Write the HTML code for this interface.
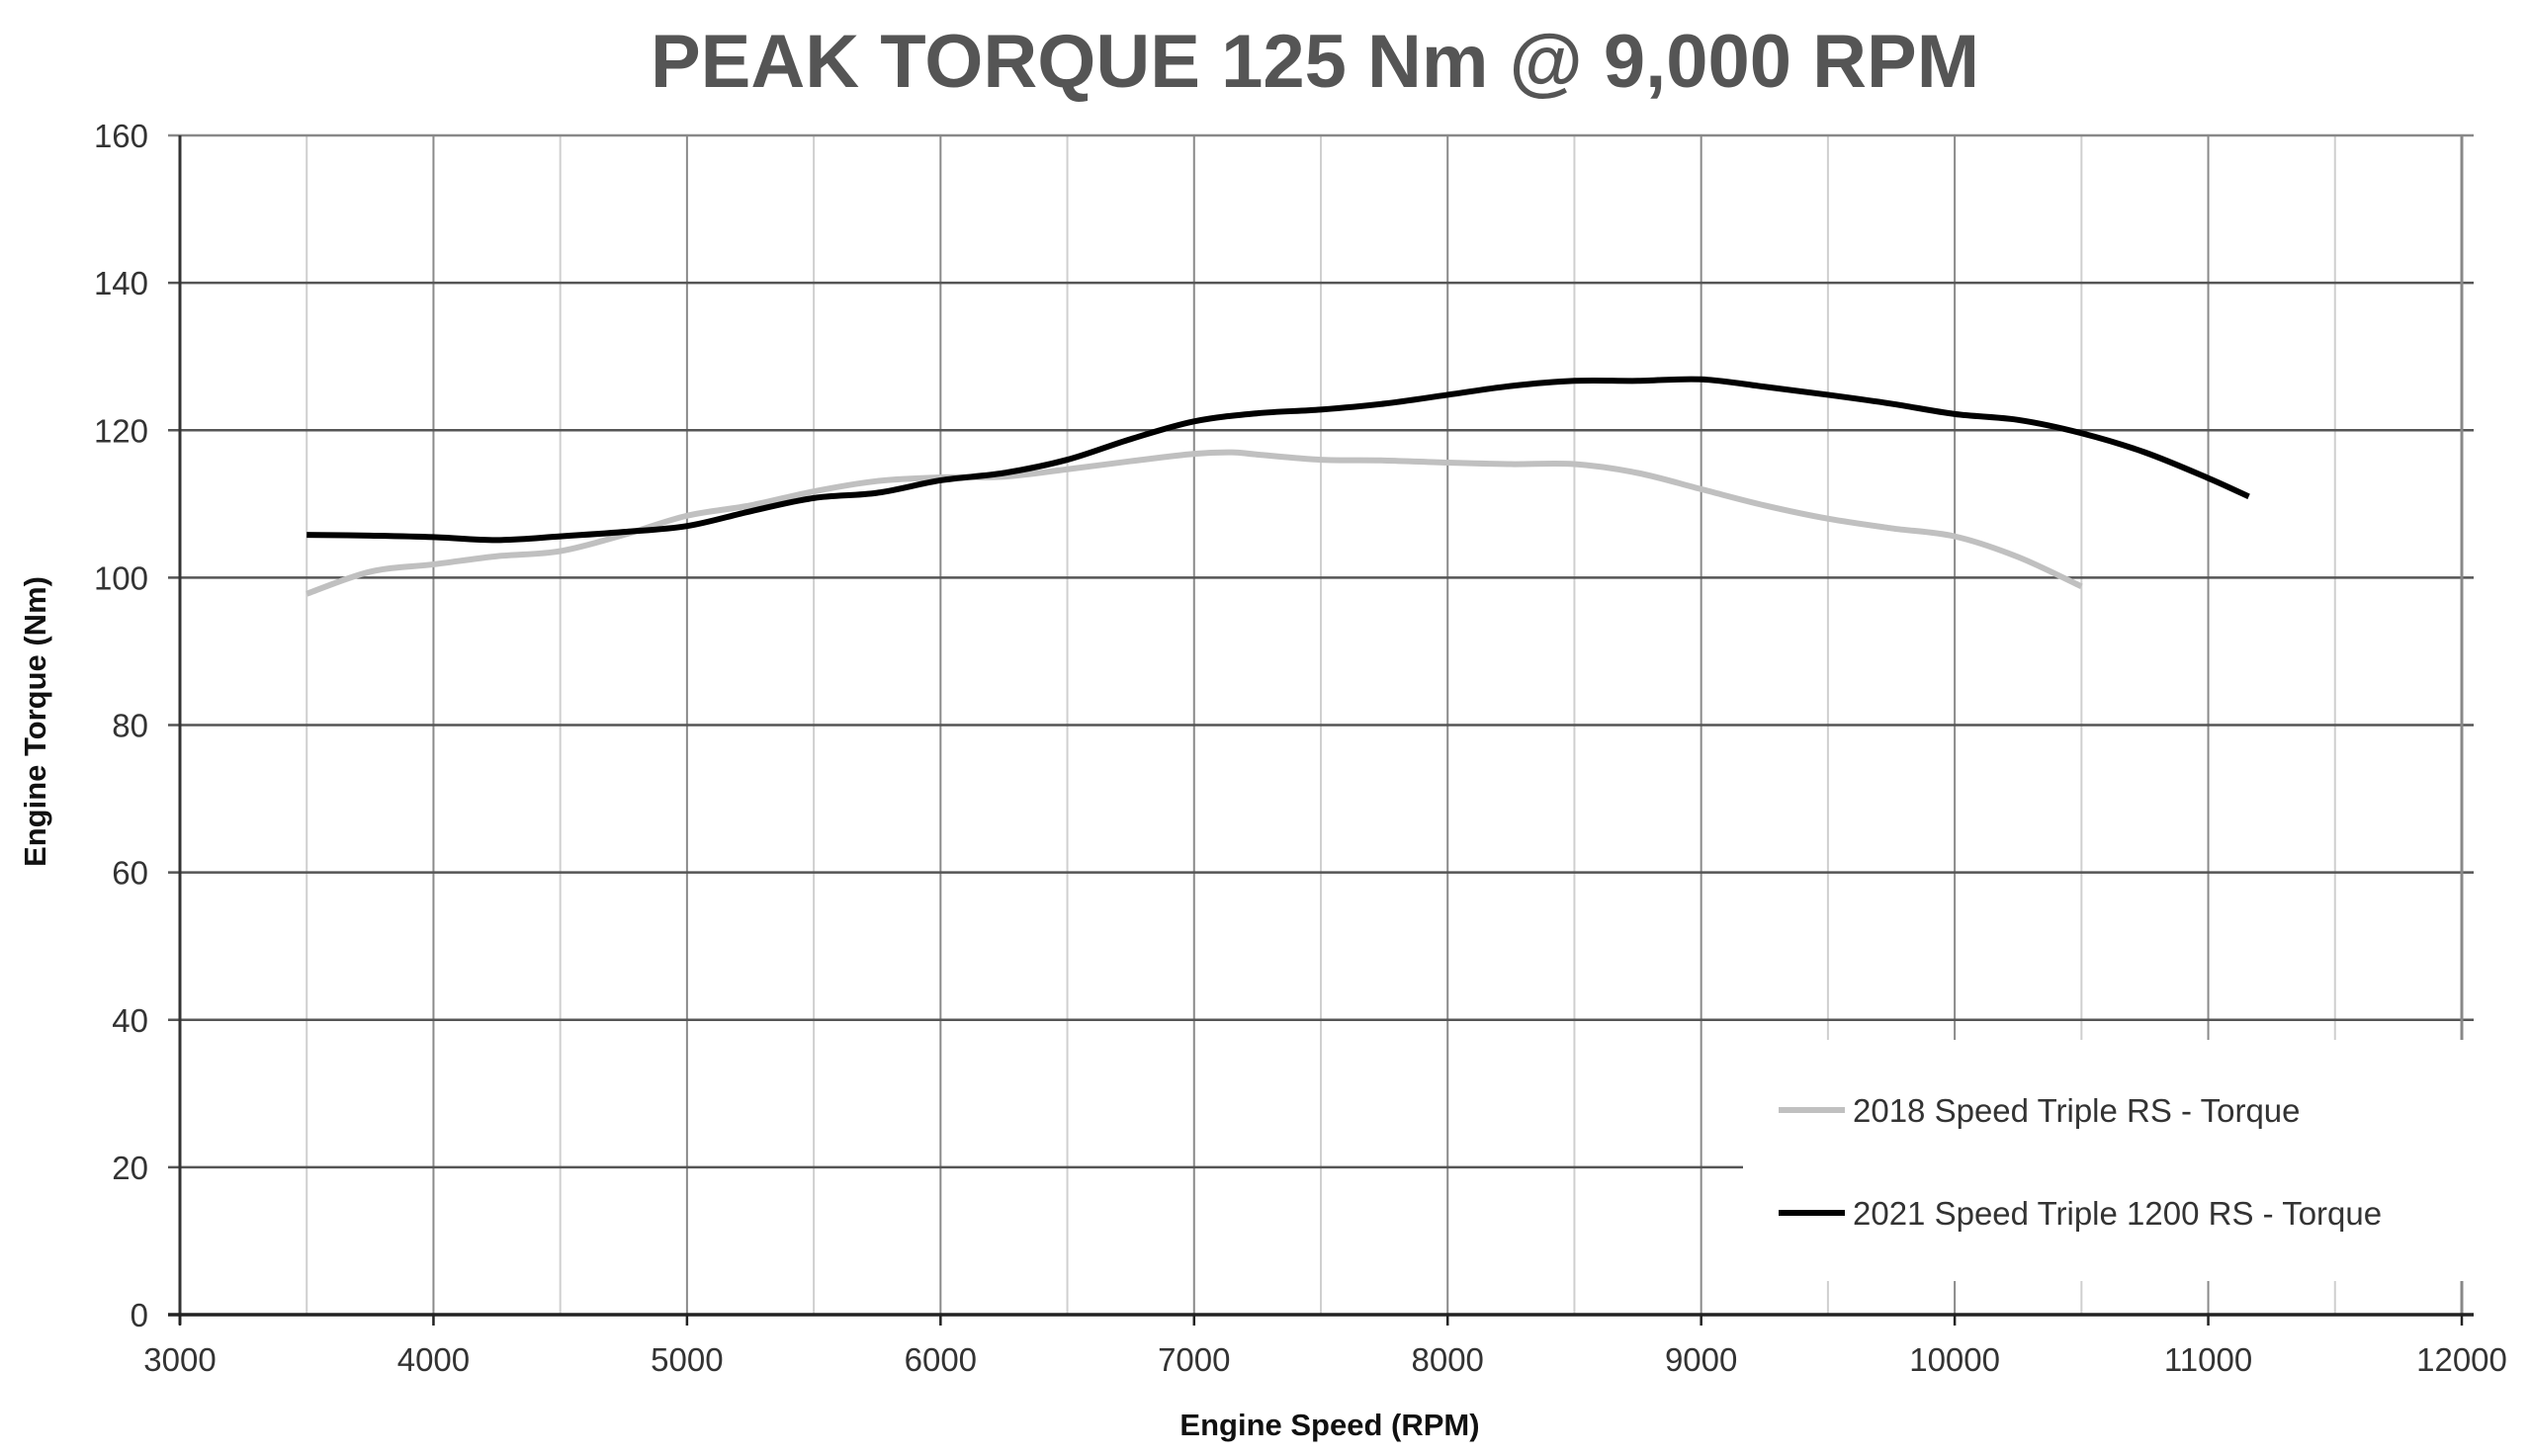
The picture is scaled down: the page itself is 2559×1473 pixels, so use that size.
<!DOCTYPE html>
<html><head><meta charset="utf-8"><style>
html,body{margin:0;padding:0;background:#fff;}
svg{display:block;font-family:"Liberation Sans",sans-serif;}
</style></head><body>
<svg id="chart" width="2559" height="1473" viewBox="0 0 2559 1473">
<text x="1330" y="88" text-anchor="middle" font-size="76" font-weight="bold" fill="#555">PEAK TORQUE 125 Nm @ 9,000 RPM</text>
<g id="grid"></g>
<g id="axes"></g>
<g id="series"></g>
<g id="legend">
<rect x="1763" y="1052" width="740" height="244" fill="#fff"/>
<line x1="1799" y1="1123" x2="1866" y2="1123" stroke="#c0c0c0" stroke-width="6"/>
<text x="1874" y="1135" font-size="33" fill="#333">2018 Speed Triple RS - Torque</text>
<line x1="1799" y1="1227" x2="1866" y2="1227" stroke="#000" stroke-width="6"/>
<text x="1874" y="1239" font-size="33" fill="#333">2021 Speed Triple 1200 RS - Torque</text>
</g>
<text x="1345" y="1452" text-anchor="middle" font-size="31" font-weight="bold" fill="#111">Engine Speed (RPM)</text>
<text transform="translate(46,730) rotate(-90)" text-anchor="middle" font-size="31" font-weight="bold" fill="#111">Engine Torque (Nm)</text>
</svg>
<script>
const xTicks = [3000,4000,5000,6000,7000,8000,9000,10000,11000,12000];
const yTicks = [0,20,40,60,80,100,120,140,160];
const rpm2021 = [3500,3750,4000,4250,4500,4750,5000,5250,5500,5750,6000,6250,6500,6750,7000,7250,7500,7750,8000,8250,8500,8750,9000,9250,9500,9750,10000,10250,10500,10750,11000,11160];
const torque2021 = [105.8,105.7,105.5,105.1,105.6,106.2,107,109,110.8,111.5,113.2,114.2,116,118.8,121.2,122.3,122.8,123.6,124.8,126,126.7,126.7,126.9,125.9,124.8,123.6,122.2,121.4,119.6,117,113.5,111];
const rpm2018 = [3500,3750,4000,4250,4500,4750,5000,5250,5500,5750,6000,6250,6500,6750,7000,7150,7250,7500,7750,8000,8250,8500,8750,9000,9250,9500,9750,10000,10250,10500];
const torque2018 = [97.8,100.8,101.8,102.9,103.6,105.8,108.4,109.8,111.7,113.1,113.6,113.7,114.7,115.8,116.8,117,116.7,116,115.9,115.6,115.4,115.4,114.2,112,109.8,108,106.7,105.6,102.8,98.8];

const X0=182,X1=2490,Y0=1330,Y1=137;
const xMin=3000,xMax=12000,yMin=0,yMax=160;
function sx(v){return X0+(v-xMin)/(xMax-xMin)*(X1-X0);}
function sy(v){return Y0-(v-yMin)/(yMax-yMin)*(Y0-Y1);}
const NS='http://www.w3.org/2000/svg';
function mk(tag,attrs,parent){const e=document.createElementNS(NS,tag);for(const k in attrs)e.setAttribute(k,attrs[k]);parent.appendChild(e);return e;}
const grid=document.getElementById('grid'),axes=document.getElementById('axes'),series=document.getElementById('series');
for(let v=xMin+500;v<xMax;v+=500){
  const major=v%1000===0;
  const l=mk('line',{x1:sx(v),x2:sx(v),y1:Y1,y2:Y0,stroke:major?'#8a8a8a':'#cfcfcf','stroke-width':2},grid);
  
  
}
for(const v of yTicks){
  if(v===0)continue;
  const l=mk('line',{x1:X0-12,x2:X1+12,y1:sy(v),y2:sy(v),stroke:v===160?'#888':'#555','stroke-width':2.5},grid);
  
  
  const t=mk('text',{x:150,y:sy(v)+12,'text-anchor':'end','font-size':33,fill:'#333'},axes);
  t.textContent=v;
  
  
}
const z=mk('text',{x:150,y:sy(0)+12,'text-anchor':'end','font-size':33,fill:'#333'},axes);
z.textContent='0';


const rb=mk('line',{x1:X1,x2:X1,y1:Y1,y2:Y0,stroke:'#888','stroke-width':3},axes);


const ya=mk('line',{x1:X0,x2:X0,y1:Y1,y2:Y0+10,stroke:'#333','stroke-width':3},axes);


const xa=mk('line',{x1:X0-12,x2:X1+12,y1:Y0,y2:Y0,stroke:'#222','stroke-width':3.5},axes);


for(const v of xTicks){
  const tk=mk('line',{x1:sx(v),x2:sx(v),y1:Y0,y2:Y0+11,stroke:'#222','stroke-width':2.5},axes);
  
  
  const t=mk('text',{x:sx(v),y:1387,'text-anchor':'middle','font-size':33,fill:'#333'},axes);
  t.textContent=v;
  
  
}
function smooth(xs,ys){
  const p=xs.map((x,i)=>[sx(x),sy(ys[i])]);
  let d='M'+p[0][0]+','+p[0][1];
  for(let i=0;i<p.length-1;i++){
    const p0=p[Math.max(0,i-1)],p1=p[i],p2=p[i+1],p3=p[Math.min(p.length-1,i+2)];
    const c1=[p1[0]+(p2[0]-p0[0])/6,p1[1]+(p2[1]-p0[1])/6];
    const c2=[p2[0]-(p3[0]-p1[0])/6,p2[1]-(p3[1]-p1[1])/6];
    d+=' C'+c1[0]+','+c1[1]+' '+c2[0]+','+c2[1]+' '+p2[0]+','+p2[1];
  }
  return d;
}
const s18=mk('path',{d:smooth(rpm2018,torque2018),fill:'none',stroke:'#c0c0c0','stroke-width':6,'stroke-linejoin':'round'},series);


const s21=mk('path',{d:smooth(rpm2021,torque2021),fill:'none',stroke:'#000','stroke-width':6,'stroke-linejoin':'round'},series);


</script>
</body></html>
